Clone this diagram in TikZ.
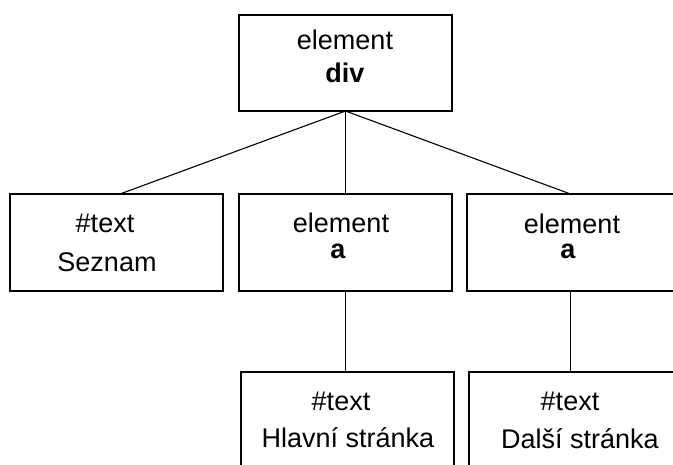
\documentclass[tikz,border=0pt]{standalone}
\usepackage{fontspec}
\setmainfont{Liberation Sans}
\begin{document}
\begin{tikzpicture}[x=1pt,y=-1pt,
  box/.style={draw=black,line width=1.3pt,rectangle,inner sep=0pt,outer sep=0pt,minimum width=213pt},
  txt/.style={inner sep=0pt,anchor=base,font=\fontsize{27}{32}\selectfont},
  conn/.style={draw=black,line width=1.1pt}]
\useasboundingbox (0,0) rectangle (673,464);
\clip (0,0) rectangle (673,464);
% boxes
\node[box,minimum height=96pt] (top) at (345.5,63) {};
\node[box,minimum height=97pt] (left) at (116.5,242.5) {};
\node[box,minimum height=97pt] (mid) at (345.5,242.5) {};
\node[box,minimum height=97pt] (right) at (573.5,242.5) {};
\node[box,minimum height=100pt] (bmid) at (347.5,422) {};
\node[box,minimum height=100pt] (bright) at (575.5,422) {};
% texts
\node[txt] (t1) at (345,49) {element};
\node[txt] (t2) at (345,82) {\bfseries div};
\node[txt] (l1) at (105,232) {\#text};
\node[txt] (l2) at (107,271) {Seznam};
\node[txt] (m1) at (341,232) {element};
\node[txt] (m2) at (338,258) {\bfseries a};
\node[txt] (r1) at (572,233) {element};
\node[txt] (r2) at (568,258) {\bfseries a};
\node[txt] (bm1) at (341,410) {\#text};
\node[txt] (bm2) at (348,447) {Hlavní stránka};
\node[txt] (br1) at (570,410) {\#text};
\node[txt] (br2) at (580,448) {Další stránka};
% connectors
\draw[conn] (top.south) -- ([xshift=3.5pt]left.north);
\draw[conn] (top.south) -- (top.south |- mid.north);
\draw[conn] (top.south) -- ([xshift=-3pt]right.north);
\draw[conn] (mid.south) -- (mid.south |- bmid.north);
\draw[conn] ([xshift=-3pt]right.south) -- ([xshift=-3pt]right.south |- bright.north);
\end{tikzpicture}
\end{document}
